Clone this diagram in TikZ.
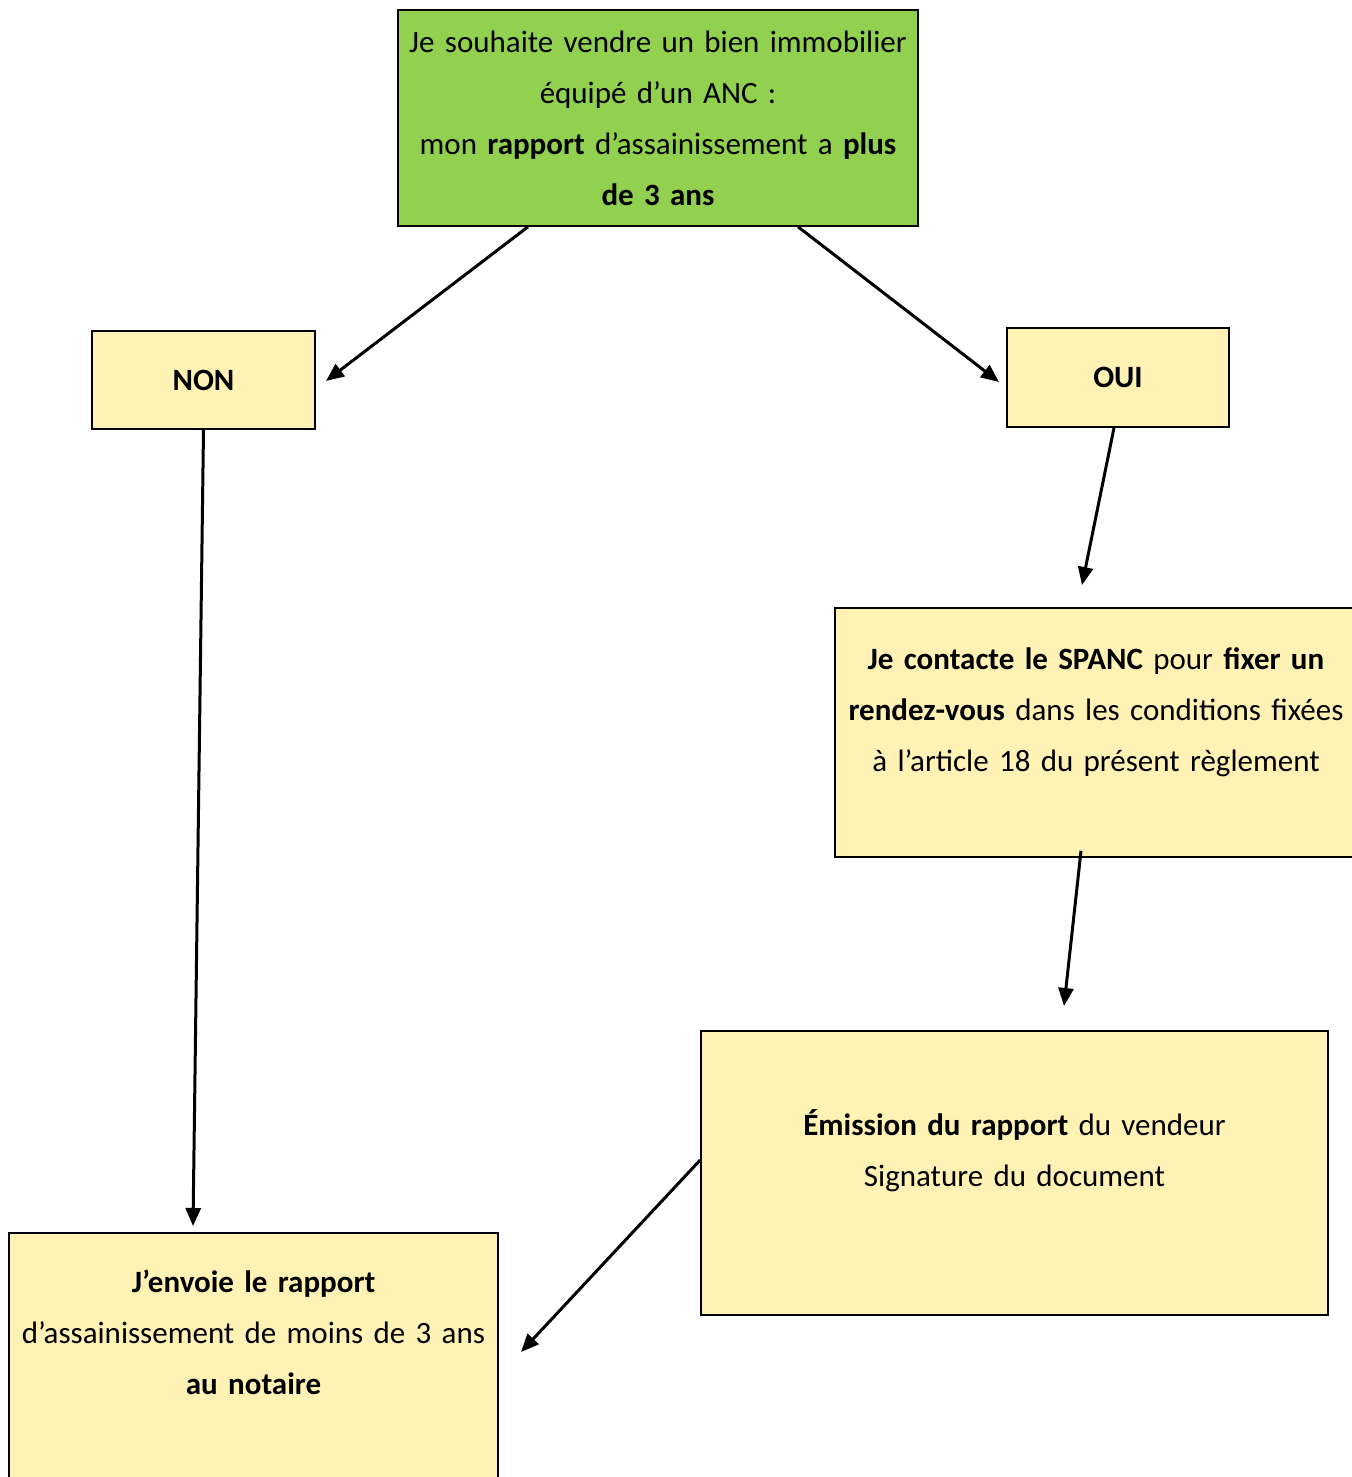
\documentclass[tikz,border=0pt]{standalone}
\usepackage{fontspec}
\setmainfont{Carlito}
\usetikzlibrary{arrows.meta}
\definecolor{vert}{HTML}{92D050}
\definecolor{jaune}{HTML}{FFF2B4}
\tikzset{
  boite/.style={draw=black, line width=0.8pt, fill=jaune, align=center, inner sep=0pt,
    font=\fontsize{15.5}{25.5}\selectfont},
  fleche/.style={line width=1.5pt, -{Triangle[length=9pt,width=7.5pt]}}
}

\begin{document}
\begin{tikzpicture}[x=0.5pt, y=-0.5pt]
    \useasboundingbox (0,0) rectangle (1351,1477);

    \node[boite, fill=vert, minimum width=260pt, minimum height=108pt, text width=258pt] (a) at (658,118)
      {Je souhaite vendre un bien immobilier\\ équipé d’un ANC :\\ mon \textbf{rapport} d’assainissement a \textbf{plus}\\ \textbf{de 3 ans}};
    \node[boite, minimum width=111.5pt, minimum height=49pt] (b) at (203.5,380) {\textbf{NON}};
    \node[boite, minimum width=111pt, minimum height=49.5pt] (c) at (1118,377.5) {\textbf{OUI}};
    \node[boite, minimum width=261pt, minimum height=124.5pt, text width=259pt] (d) at (1096,732.5)
      {\textbf{Je contacte le SPANC} pour \textbf{fixer un}\\ \textbf{rendez-vous} dans les conditions fixées\\ à l’article 18 du présent règlement\\[-3pt] \mbox{}};
    \node[boite, minimum width=313.5pt, minimum height=142pt, text width=310pt] (e) at (1014.5,1173)
      {\textbf{Émission du rapport} du vendeur\\ Signature du document\\ \mbox{}};
    \node[boite, minimum width=244.5pt, minimum height=125pt, text width=243pt] (f) at (253.5,1358)
      {\textbf{J’envoie le rapport}\\ d’assainissement de moins de 3 ans\\ \textbf{au notaire}\\ \mbox{}};

    \coordinate (b1) at (326,381);
    \coordinate (c1) at (999,382);
    \coordinate (d1) at (1082,585);
    \coordinate (e1) at (1064,1006);
    \coordinate (f1) at (193,1226);
    \coordinate (f2) at (521,1352);

    \draw [fleche] ([xshift=-65pt]a.south) to (b1);
    \draw [fleche] ([xshift=70pt]a.south) to (c1);
    \draw [fleche] ([xshift=-2pt]c.south) to (d1);
    \draw [fleche] ([xshift=-7.5pt,yshift=3.5pt]d.south) to (e1);
    \draw [fleche] (b.south) to (f1);
    \draw [fleche] ([yshift=6.5pt]e.west) to (f2);

  \end{tikzpicture}
\end{document}
